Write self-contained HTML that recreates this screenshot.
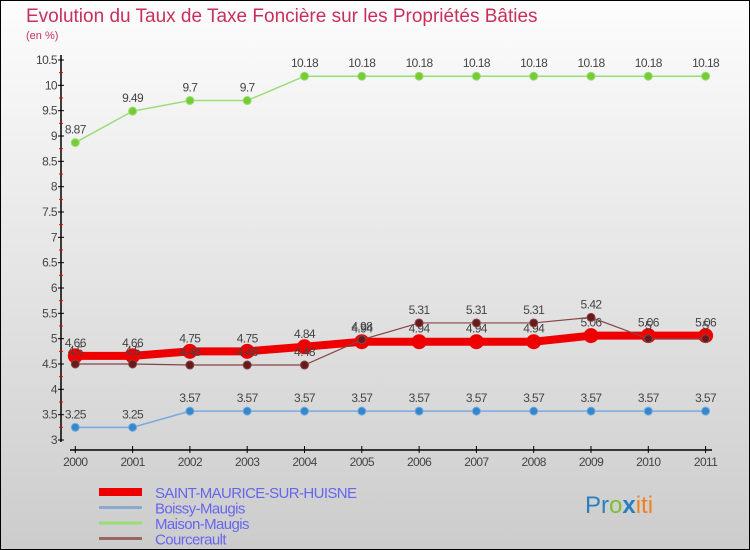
<!DOCTYPE html>
<html><head><meta charset="utf-8"><style>
body{margin:0;}
svg{display:block;font-family:"Liberation Sans",sans-serif;}
</style></head><body>
<svg id="chart" width="750" height="550" viewBox="0 0 750 550">
<defs><linearGradient id="bg" x1="0" y1="0" x2="0" y2="1"><stop offset="0" stop-color="#fdfdfd"/><stop offset="1" stop-color="#cccccc"/></linearGradient></defs>
<rect x="0" y="0" width="750" height="550" fill="url(#bg)" stroke="#000" stroke-width="2"/>
<text x="26" y="22" font-size="19" fill="#c8305a">Evolution du Taux de Taxe Foncière sur les Propriétés Bâties</text>
<text x="26" y="39" font-size="11" fill="#c8305a">(en %)</text>
<g id="axes"></g>
<g id="series"></g>
<g id="legend"></g>
<text x="585" y="513" font-size="24"><tspan fill="#2a7fc0">Pr</tspan><tspan fill="#7cc030">o</tspan><tspan fill="#2a7fc0" font-weight="bold">x</tspan><tspan fill="#f08020">iti</tspan></text>
</svg>
<script>
const years = [2000,2001,2002,2003,2004,2005,2006,2007,2008,2009,2010,2011];
const saintMaurice = [4.66,4.66,4.75,4.75,4.84,4.94,4.94,4.94,4.94,5.06,5.06,5.06];
const boissy = [3.25,3.25,3.57,3.57,3.57,3.57,3.57,3.57,3.57,3.57,3.57,3.57];
const maison = [8.87,9.49,9.7,9.7,10.18,10.18,10.18,10.18,10.18,10.18,10.18,10.18];
const courcerault = [4.5,4.5,4.48,4.48,4.48,4.98,5.31,5.31,5.31,5.42,5,5];
const yTicks = [3,3.5,4,4.5,5,5.5,6,6.5,7,7.5,8,8.5,9,9.5,10,10.5];
const seriesNames = ["SAINT-MAURICE-SUR-HUISNE","Boissy-Maugis","Maison-Maugis","Courcerault"];

const NS="http://www.w3.org/2000/svg";
const yMin=3,yMax=10.5,yTop=60,yBot=440;
function yS(v){return yBot-(v-yMin)/(yMax-yMin)*(yBot-yTop);}
function xS(i){return 75.3+i*57.3;}
function mk(tag,attrs,parent){const e=document.createElementNS(NS,tag);for(const k in attrs)e.setAttribute(k,attrs[k]);parent.appendChild(e);return e;}
const axes=document.getElementById('axes');
let el;
el=mk('line',{x1:61,y1:55,x2:61,y2:442,stroke:'#000','stroke-width':1.5},axes);


el=mk('line',{x1:70,y1:450,x2:712,y2:450,stroke:'#000','stroke-width':1.5},axes);


yTicks.forEach((t,i)=>{
  const y=yS(t);
  mk('line',{x1:58,y1:y,x2:64,y2:y,stroke:'#000'},axes);
  if(i<yTicks.length-1){mk('line',{x1:59,y1:yS(t+0.25),x2:63,y2:yS(t+0.25),stroke:'#e00'},axes);}
  const tx=mk('text',{x:57,y:y+4,'text-anchor':'end','font-size':12,fill:'#444','letter-spacing':'-0.6'},axes);
  tx.textContent=String(t);
  
  
});
years.forEach((yr,i)=>{
  const x=xS(i);
  mk('line',{x1:x,y1:446,x2:x,y2:453,stroke:'#000'},axes);
  const tx=mk('text',{x:x,y:466,'text-anchor':'middle','font-size':12,fill:'#444','letter-spacing':'-0.6'},axes);
  tx.textContent=String(yr);
  
  
});
const ser=document.getElementById('series');
function drawSeries(vals,color,width,r,dot,name){
  const g=mk('g',{},ser);
  
  
  const pts=vals.map((v,i)=>xS(i)+','+yS(v)).join(' ');
  mk('polyline',{points:pts,fill:'none',stroke:color,'stroke-width':width},g);
  vals.forEach((v,i)=>{
    const c=mk('circle',{cx:xS(i),cy:yS(v),r:r,fill:dot,stroke:color,'stroke-width':1},g);
    
    
    const t=mk('text',{x:xS(i),y:yS(v)-9,'text-anchor':'middle','font-size':12,fill:'#444','letter-spacing':'-0.6'},g);
    t.textContent=String(v);
  });
}
drawSeries(maison,'#99dd77',1.5,4,'#77cc33','series-maison-maugis');
drawSeries(boissy,'#77aadd',1.5,4,'#3388cc','series-boissy-maugis');
drawSeries(saintMaurice,'#ee0000',8,7,'#ee0000','series-saint-maurice');
drawSeries(courcerault,'#884444',1.2,4,'#661c1c','series-courcerault');
const leg=document.getElementById('legend');
const legColors=['#ee0000','#88aacc','#99dd77','#996666'];
const legW=[8,3,3,3];
seriesNames.forEach((n,i)=>{
  const y=492+i*15.5;
  const l=mk('line',{x1:99,y1:y,x2:142,y2:y,stroke:legColors[i],'stroke-width':legW[i]},leg);
  
  
  const t=mk('text',{x:155,y:y+6,'font-size':15,fill:'#6666ee','letter-spacing':'-0.6'},leg);
  t.textContent=n;
  
  
});
</script>
</body></html>
